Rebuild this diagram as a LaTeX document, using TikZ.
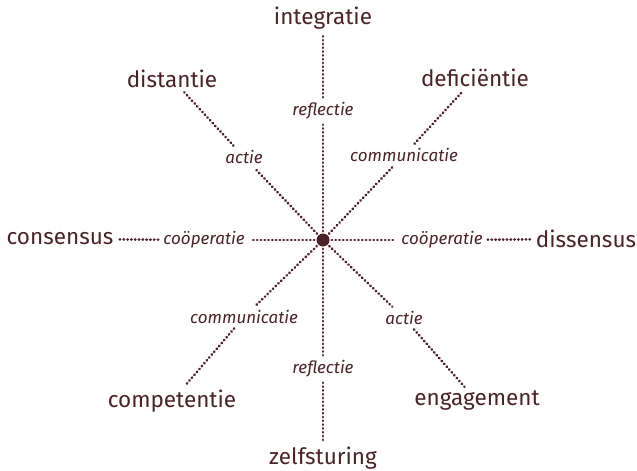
\documentclass[tikz,border=0pt]{standalone}
\usepackage{fontspec}
\setmainfont{Fira Sans}
\definecolor{ink}{HTML}{4A2228}
\begin{document}
\begin{tikzpicture}[x=1pt,y=-1pt,
  pole/.style={text=ink,font=\fontsize{22.5}{26}\selectfont,inner sep=2pt},
  via/.style={text=ink,font=\fontsize{17}{20}\selectfont\itshape,inner sep=3pt},
  dotline/.style={draw=ink,line width=2.7pt,line cap=round,dash pattern=on 0.4pt off 3.4pt,
                  shorten <=2pt,shorten >=2pt}]
\useasboundingbox (0,0) rectangle (637,471);
% hub
\fill[ink] (323,240) circle (6.5);
\node[circle,minimum size=13pt,inner sep=0pt] (hub) at (323,240) {};
% outer poles
\node[pole] (integratie) at (323,18) {integratie};
\node[pole] (zelfsturing) at (323,458) {zelfsturing};
\node[pole] (distantie) at (172,79) {distantie};
\node[pole] (deficientie) at (475,78) {deficiëntie};
\node[pole] (consensus) at (60,239) {consensus};
\node[pole] (dissensus) at (586,239) {dissensus};
\node[pole] (competentie) at (172,401) {competentie};
\node[pole] (engagement) at (477,401) {engagement};
% labels along the spokes
\node[via] (reflN) at (323,111) {reflectie};
\node[via] (reflS) at (323,369) {reflectie};
\node[via] (actNW) at (244,157) {actie};
\node[via] (comNE) at (404,155) {communicatie};
\node[via] (coopW) at (204,240) {coöperatie};
\node[via] (coopE) at (442,240) {coöperatie};
\node[via] (comSW) at (244,317) {communicatie};
\node[via] (actSE) at (404,318) {actie};
% spokes
\foreach \m/\p in {reflN/integratie, reflS/zelfsturing, actNW/distantie, comNE/deficientie,
                   coopW/consensus, coopE/dissensus, comSW/competentie, actSE/engagement}{
  \draw[dotline] (hub) -- (\m);
  \draw[dotline] (\m) -- (\p);
}
\end{tikzpicture}
\end{document}
